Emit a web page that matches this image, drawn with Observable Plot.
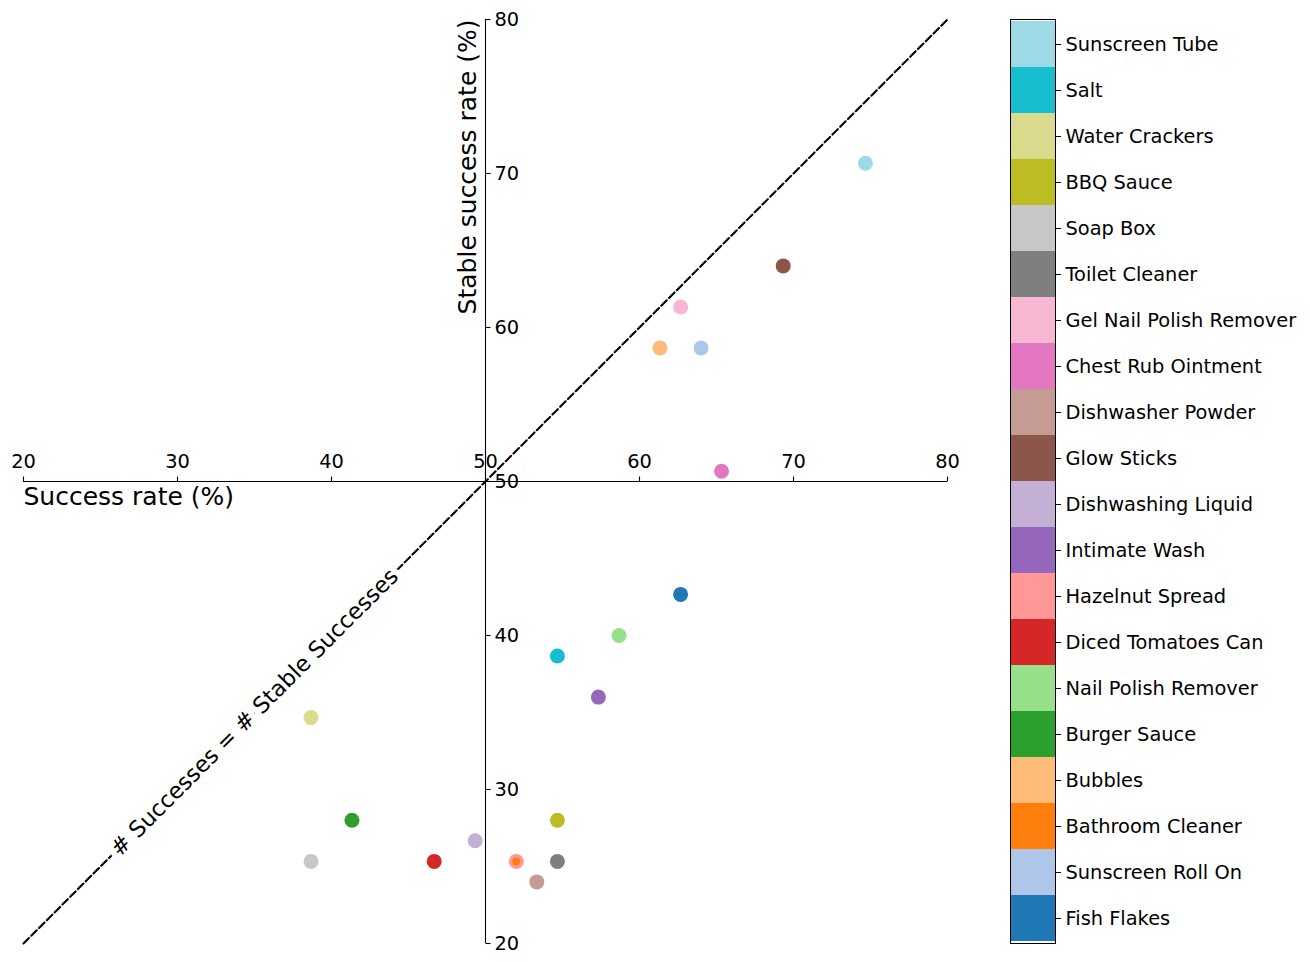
<!DOCTYPE html>
<html>
<head>
<meta charset="utf-8">
<script src="https://cdn.jsdelivr.net/npm/d3@7"></script>
<script src="https://cdn.jsdelivr.net/npm/@observablehq/plot@0.6"></script>
<style>
  html, body { margin: 0; padding: 0; background: #fff; }
  #wrap { position: relative; width: 1310px; height: 962px; font-family: "DejaVu Sans", sans-serif; }
  #wrap > div, #wrap > svg { position: absolute; top: 0; }
</style>
</head>
<body>
<div id="wrap"></div>
<script>
// ---- data ----
const names = ["Fish Flakes", "Sunscreen Roll On", "Bathroom Cleaner", "Bubbles", "Burger Sauce",
  "Nail Polish Remover", "Diced Tomatoes Can", "Hazelnut Spread", "Intimate Wash", "Dishwashing Liquid",
  "Glow Sticks", "Dishwasher Powder", "Chest Rub Ointment", "Gel Nail Polish Remover", "Toilet Cleaner",
  "Soap Box", "BBQ Sauce", "Water Crackers", "Salt", "Sunscreen Tube"];
const colors = ["#1f77b4", "#aec7e8", "#ff7f0e", "#ffbb78", "#2ca02c", "#98df8a", "#d62728", "#ff9896",
  "#9467bd", "#c5b0d5", "#8c564b", "#c49c94", "#e377c2", "#f7b6d2", "#7f7f7f", "#c7c7c7", "#bcbd22",
  "#dbdb8d", "#17becf", "#9edae5"];
const successRate = [62.67, 64.0, 52.0, 61.33, 41.33, 58.67, 46.67, 52.0, 57.33, 49.33,
  69.33, 53.33, 65.33, 62.67, 54.67, 38.67, 54.67, 38.67, 54.67, 74.67];
const stableRate = [42.67, 58.67, 25.33, 58.67, 28.0, 40.0, 25.33, 25.33, 36.0, 26.67,
  64.0, 24.0, 50.67, 61.33, 25.33, 25.33, 28.0, 34.67, 38.67, 70.67];
const xTicks = [20, 30, 40, 50, 60, 70, 80];
const yTicks = [20, 30, 40, 50, 60, 70, 80];
const xLabel = "Success rate (%)";
const yLabel = "Stable success rate (%)";
const diagLabel = "# Successes = # Stable Successes";
const diagLine = [[20, 20], [80, 80]];
const diagLabelPos = [[35, 35]];
const smallName = "Bathroom Cleaner";

// ---- table ----
const rows = names.map((n, i) => ({name: n, x: successRate[i], y: stableRate[i]}))
  .sort((a, b) => (a.name === smallName) - (b.name === smallName));

const colorScale = {domain: names, range: colors};
const FONT = "DejaVu Sans, sans-serif";
const TICK_FS = 19.4;
const LABEL_FS = 25;

const tickUp = {draw(ctx) { ctx.moveTo(0, 0); ctx.lineTo(0, -5); }};
const tickRight = {draw(ctx) { ctx.moveTo(0, 0); ctx.lineTo(5, 0); }};

const main = Plot.plot({
  width: 1000, height: 962,
  marginLeft: 23, marginRight: 53, marginTop: 19, marginBottom: 19,
  style: {fontFamily: FONT, background: "white", overflow: "visible"},
  x: {domain: [20, 80], axis: null},
  y: {domain: [20, 80], axis: null},
  r: {type: "identity"},
  color: colorScale,
  marks: [
    Plot.line(diagLine, {x: d => d[0], y: d => d[1], stroke: "black", strokeWidth: 2.1, strokeDasharray: "7.7,3.3"}),
    Plot.text(diagLabelPos, {x: d => d[0], y: d => d[1], text: () => diagLabel, rotate: -45,
      fontSize: 22.5, fill: "black", stroke: "white", strokeWidth: 12, textAnchor: "middle", lineAnchor: "middle"}),
    Plot.ruleY([50], {stroke: "black", strokeWidth: 1.1}),
    Plot.ruleX([50], {stroke: "black", strokeWidth: 1.1}),
    Plot.dot(xTicks, {x: d => d, y: () => 50, symbol: tickUp, stroke: "black", fill: "none", strokeWidth: 1.1}),
    Plot.dot(yTicks, {x: () => 50, y: d => d, symbol: tickRight, stroke: "black", fill: "none", strokeWidth: 1.1}),
    Plot.text(xTicks, {x: d => d, y: () => 50, text: d => String(d), dy: -14, lineAnchor: "bottom",
      fontSize: TICK_FS, fill: "black"}),
    Plot.text(yTicks, {x: () => 50, y: d => d, text: d => String(d), dx: 9, textAnchor: "start",
      lineAnchor: "middle", fontSize: TICK_FS, fill: "black"}),
    Plot.text([xLabel], {x: () => 20, y: () => 50, text: d => d, textAnchor: "start", lineAnchor: "top",
      dy: 6, fontSize: LABEL_FS, fill: "black"}),
    Plot.text([yLabel], {x: () => 50, y: () => 80, text: d => d, rotate: -90, textAnchor: "end",
      lineAnchor: "bottom", dx: -10, fontSize: LABEL_FS, fill: "black"}),
    Plot.dot(rows, {x: "x", y: "y", fill: "name", r: d => d.name === smallName ? 4 : 7.5, stroke: "none"})
  ]
});
main.style.left = "0px";

const bar = Plot.plot({
  width: 300, height: 962,
  marginLeft: 0, marginRight: 255, marginTop: 19, marginBottom: 19,
  style: {fontFamily: FONT, fontSize: TICK_FS + "px", background: "transparent", overflow: "visible"},
  x: {domain: [0, 1], axis: null},
  y: {type: "band", domain: names.slice().reverse(), padding: 0, axis: "right", tickSize: 5,
    tickPadding: 5, label: null},
  color: colorScale,
  marks: [
    Plot.barX(names, {x1: () => 0, x2: () => 1, y: d => d, fill: d => d}),
    Plot.frame({stroke: "black", strokeWidth: 1})
  ]
});
bar.style.left = "1010px";

const wrap = document.getElementById("wrap");
wrap.appendChild(main);
wrap.appendChild(bar);
</script>
</body>
</html>
